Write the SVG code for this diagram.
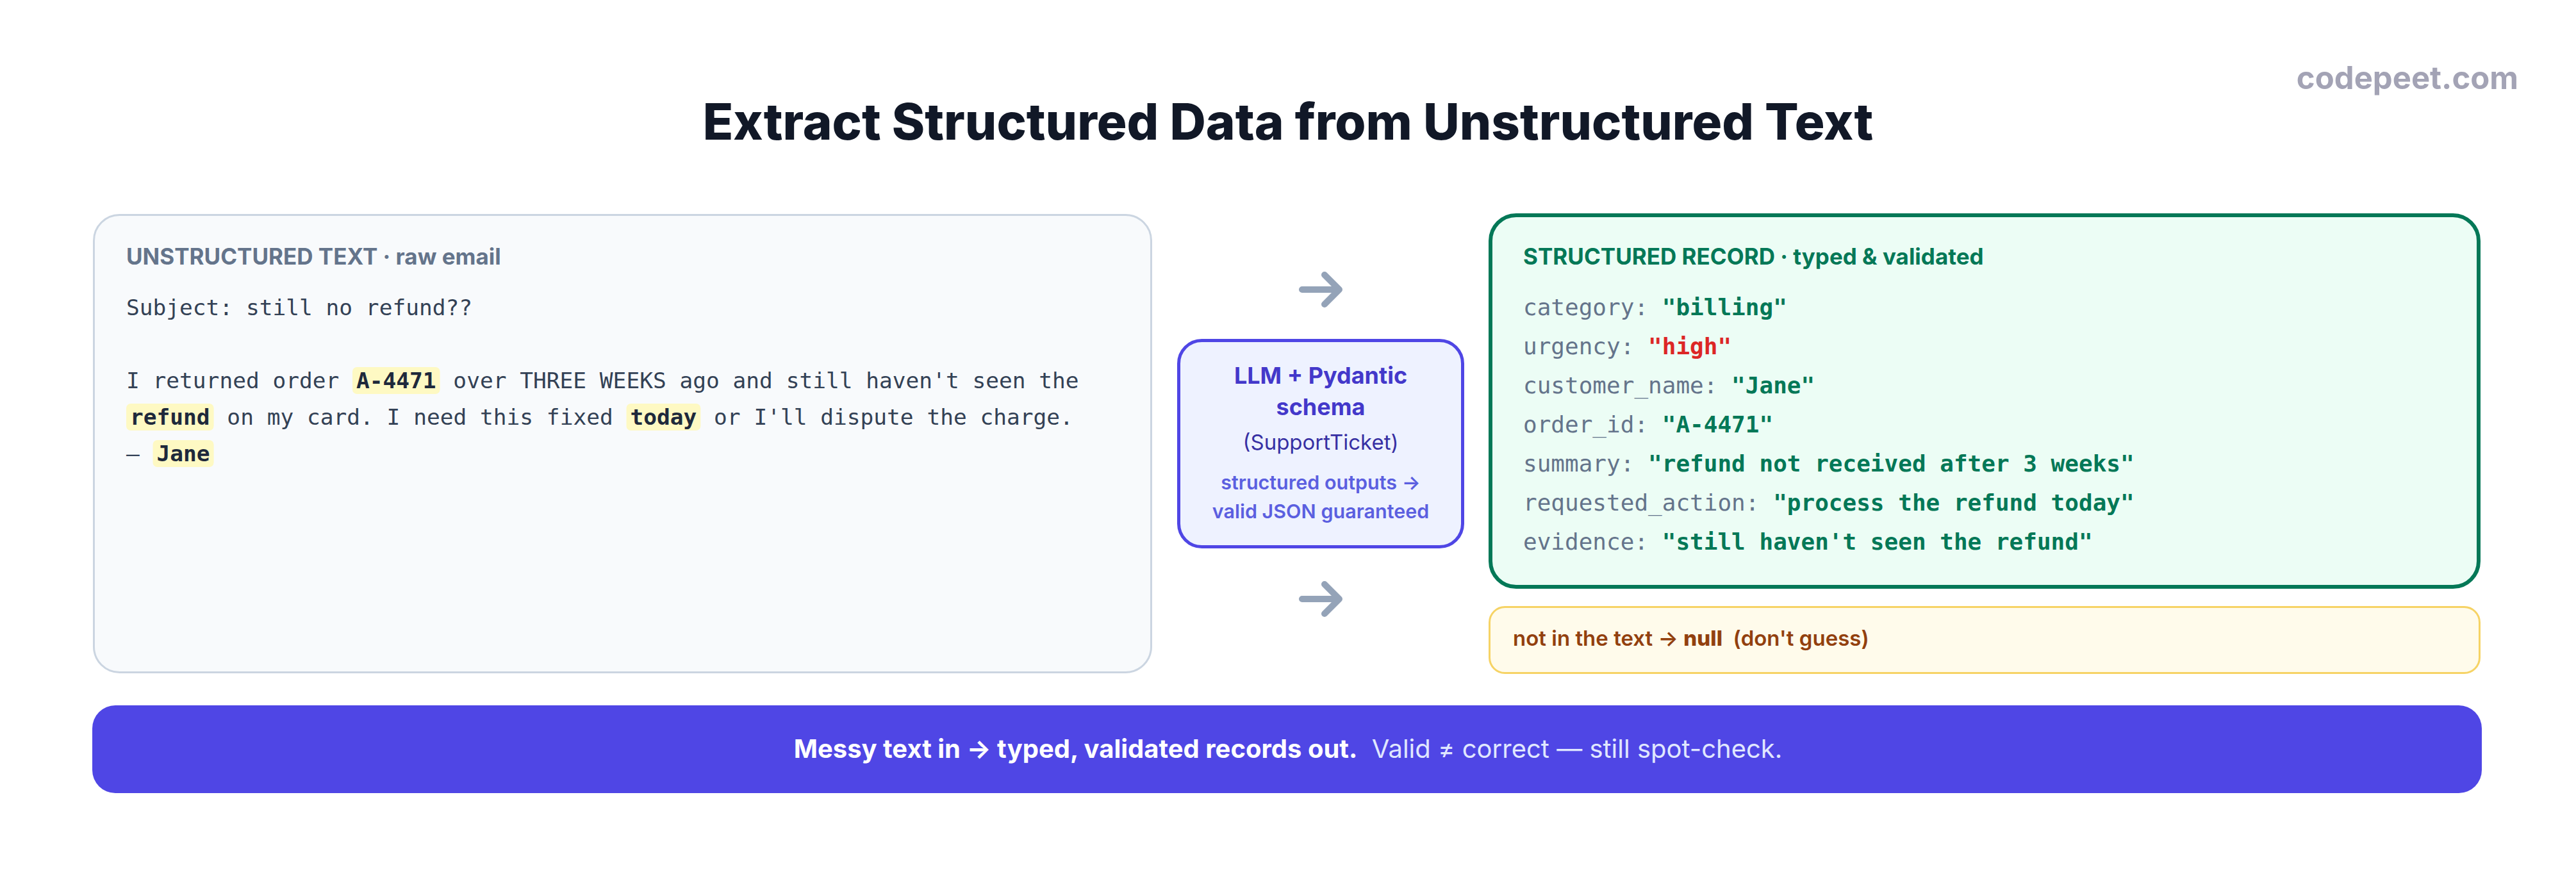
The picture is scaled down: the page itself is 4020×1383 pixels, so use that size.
<svg xmlns="http://www.w3.org/2000/svg" width="4020" height="1383" viewBox="0 0 4020 1383">
<style>
.sans{font-family:Inter,"Noto Sans","Liberation Sans",sans-serif}
.mono{font-family:"DejaVu Sans Mono","Liberation Mono",monospace}
.hdr{font-size:35px;font-weight:700}
.email{font-size:34.5px;fill:#334155}
.hl{fill:#fef9c3}
.hlt{font-weight:700;fill:#1e293b}
.field{font-size:36px}
.key{fill:#64748b}
.val{fill:#047857;font-weight:700}
.arrow{fill:none;stroke:#94a3b8;stroke-width:10;stroke-linecap:round;stroke-linejoin:round}
</style>
<rect width="4020" height="1383" fill="#ffffff"/>
<text class="sans" x="3930" y="139" text-anchor="end" font-size="49" font-weight="700" fill="#a3a3b5">codepeet.com</text>
<text class="sans" x="2010" y="218" text-anchor="middle" font-size="78" font-weight="800" fill="#111827">Extract Structured Data from Unstructured Text</text>

<g id="unstructured-text">
<rect x="146.5" y="335.5" width="1650" height="714" rx="40" fill="#f8fafc" stroke="#cbd5e1" stroke-width="3"/>
<text class="sans hdr" x="197" y="413" fill="#64748b">UNSTRUCTURED TEXT · raw email</text>
<text class="mono email" x="197" y="492">Subject: still no refund??</text>
<rect class="hl" x="550" y="573" width="136.6" height="42" rx="7"/>
<text class="mono email" y="606" xml:space="preserve"><tspan x="197">I returned order </tspan><tspan x="556" class="hlt">A-4471</tspan><tspan x="686.6"> over THREE WEEKS ago and still haven't seen the</tspan></text>
<rect class="hl" x="197" y="630" width="136.6" height="42" rx="7"/>
<rect class="hl" x="977.5" y="630" width="115.8" height="42" rx="7"/>
<text class="mono email" y="663" xml:space="preserve"><tspan x="203" class="hlt">refund</tspan><tspan x="333.6"> on my card. I need this fixed </tspan><tspan x="983.5" class="hlt">today</tspan><tspan x="1093.3"> or I'll dispute the charge.</tspan></text>
<rect class="hl" x="238.5" y="687" width="95.1" height="42" rx="7"/>
<text class="mono email" y="720" xml:space="preserve"><tspan x="197">— </tspan><tspan x="244.5" class="hlt">Jane</tspan></text>
</g>

<g id="llm-schema">
<rect x="1839.5" y="531.5" width="443" height="322" rx="36" fill="#eef2ff" stroke="#4f46e5" stroke-width="5"/>
<text class="sans" x="2061" y="599" text-anchor="middle" font-size="36" font-weight="700" fill="#4338ca">LLM + Pydantic</text>
<text class="sans" x="2061" y="648" text-anchor="middle" font-size="36" font-weight="700" fill="#4338ca">schema</text>
<text class="sans" x="2061" y="702" text-anchor="middle" font-size="33" font-weight="400" fill="#3730a3">(SupportTicket)</text>
<text class="sans" x="2061" y="764" text-anchor="middle" font-size="30.5" font-weight="600" fill="#5b5fe0">structured outputs →</text>
<text class="sans" x="2061" y="809" text-anchor="middle" font-size="30.5" font-weight="600" fill="#5b5fe0">valid JSON guaranteed</text>
</g>

<g id="structured-record">
<rect x="2326" y="336" width="1542" height="580" rx="40" fill="#ecfdf5" stroke="#047857" stroke-width="6"/>
<text class="sans hdr" x="2377" y="413" fill="#047857">STRUCTURED RECORD · typed &amp; validated</text>
<text class="mono field" x="2377" y="492" xml:space="preserve"><tspan class="key">category: </tspan><tspan class="val">"billing"</tspan></text>
<text class="mono field" x="2377" y="553" xml:space="preserve"><tspan class="key">urgency: </tspan><tspan class="val" style="fill:#dc2626">"high"</tspan></text>
<text class="mono field" x="2377" y="614" xml:space="preserve"><tspan class="key">customer_name: </tspan><tspan class="val">"Jane"</tspan></text>
<text class="mono field" x="2377" y="675" xml:space="preserve"><tspan class="key">order_id: </tspan><tspan class="val">"A-4471"</tspan></text>
<text class="mono field" x="2377" y="736" xml:space="preserve"><tspan class="key">summary: </tspan><tspan class="val">"refund not received after 3 weeks"</tspan></text>
<text class="mono field" x="2377" y="797" xml:space="preserve"><tspan class="key">requested_action: </tspan><tspan class="val">"process the refund today"</tspan></text>
<text class="mono field" x="2377" y="858" xml:space="preserve"><tspan class="key">evidence: </tspan><tspan class="val">"still haven't seen the refund"</tspan></text>
</g>

<g id="null-note">
<rect x="2324.5" y="947.5" width="1545" height="103" rx="24" fill="#fffbeb" stroke="#f6d365" stroke-width="3"/>
<text class="sans" x="2361" y="1008" font-size="33" font-weight="600" fill="#92400e" xml:space="preserve">not in the text → <tspan font-weight="800">null</tspan>  (don't guess)</text>
</g>

<g id="banner">
<rect x="144" y="1101" width="3729" height="137" rx="36" fill="#4f46e5"/>
<text class="sans" x="2010" y="1183" text-anchor="middle" font-size="40" fill="#ffffff" xml:space="preserve"><tspan font-weight="700">Messy text in → typed, validated records out.</tspan><tspan font-weight="400" fill="#e0e7ff">  Valid ≠ correct — still spot-check.</tspan></text>
</g>

<g id="connectors">
<path class="arrow" d="M2032 452 H2090 M2067 429 L2090 452 L2067 475"/>
<path class="arrow" d="M2032 935 H2090 M2067 912 L2090 935 L2067 958"/>
</g>
</svg>
